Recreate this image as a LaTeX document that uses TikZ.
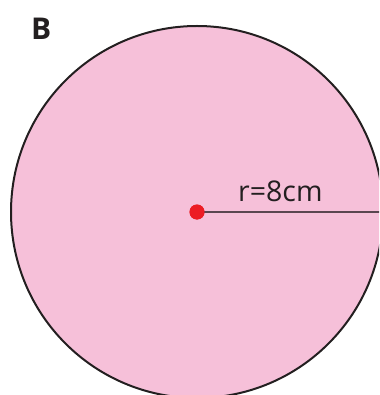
\documentclass[tikz,border=0pt]{standalone}
\usepackage{fontspec}
\setmainfont{Open Sans}
\definecolor{pinkfill}{HTML}{F6C0D9}
\definecolor{rimcol}{HTML}{231F20}
\definecolor{dotred}{HTML}{EC1C24}
\definecolor{radcol}{HTML}{5A4650}
\tikzset{
  disk/.style={draw=rimcol, fill=pinkfill, line width=2pt},
  centredot/.style={circle, fill=dotred, inner sep=0pt, minimum size=15pt},
  radline/.style={draw=radcol, line width=1.6pt},
  lbl/.style={inner sep=0pt, anchor=base west, text=rimcol}
}
\begin{document}
\begin{tikzpicture}[x=1pt,y=-1pt]
\useasboundingbox (0,0) rectangle (379,395);
\clip (0,0) rectangle (379,395);
\draw[disk] (197,212) circle[radius=186];
\coordinate (e) at (383,212);
\node[centredot] (c) at (197,212) {};
\draw[radline] (c.center) -- (e);
\node[centredot] at (197,212) {};
\node[lbl, font=\fontsize{28.5}{30}\selectfont] (r) at (238,201) {r=8cm};
\node[lbl, font=\bfseries\fontsize{30}{32}\selectfont] (b) at (31,40) {B};
\end{tikzpicture}
\end{document}
